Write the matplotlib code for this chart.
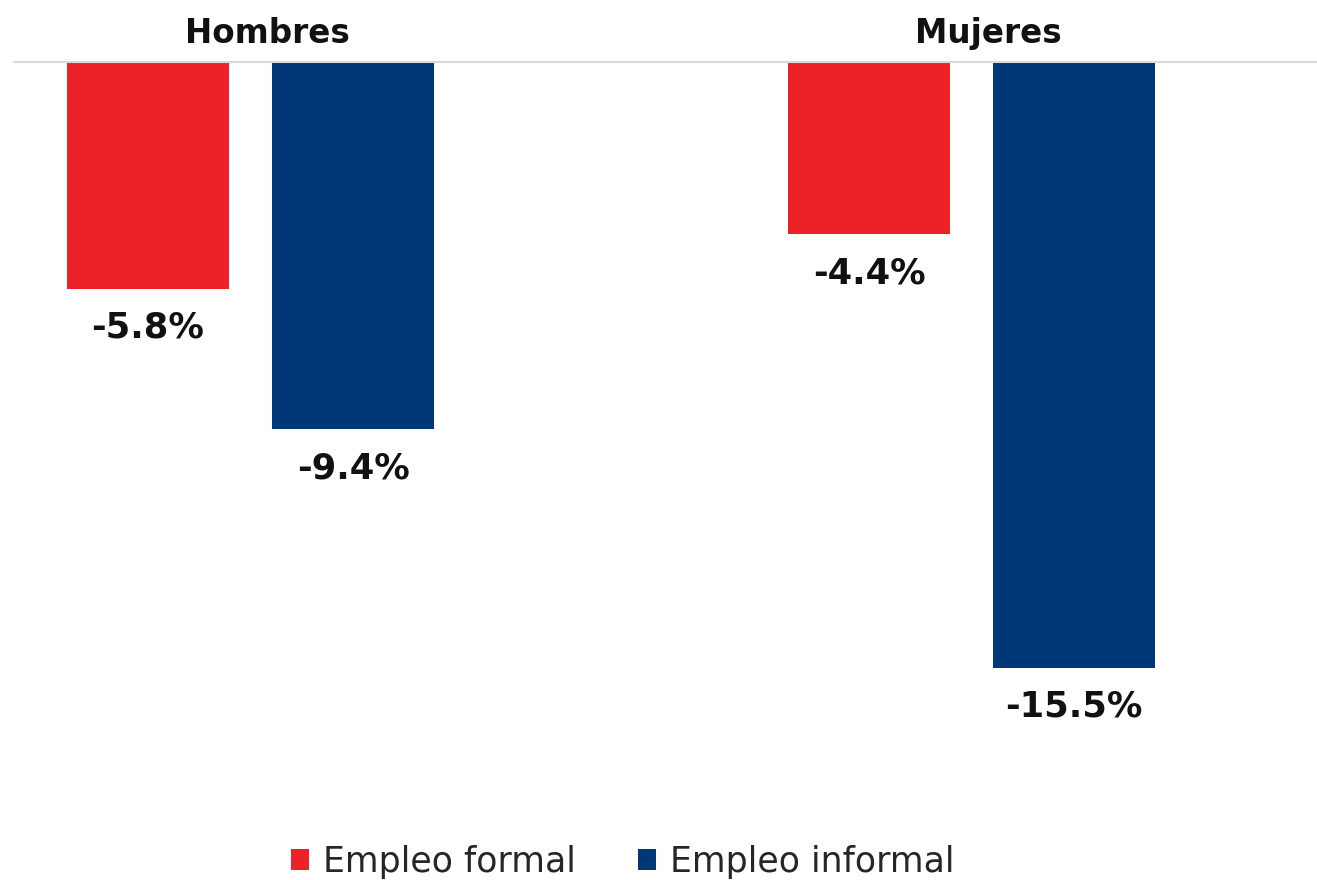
import matplotlib
matplotlib.use("Agg")
import matplotlib.pyplot as plt
import numpy as np

categories = ["Hombres", "Mujeres"]
series_names = ["Empleo formal", "Empleo informal"]
formal = [-5.8, -4.4]
informal = [-9.4, -15.5]
colors = ["#EB2228", "#003777"]

fig = plt.figure(figsize=(13.17, 8.8), dpi=100)
W, H = 1317, 880
ax = fig.add_axes([14 / W, 1 - 785 / H, (1317 - 14) / W, (785 - 62) / H])

x = np.arange(len(categories))
width = 0.2247
off = 0.1422
b1 = ax.bar(x - off, formal, width, color=colors[0], label=series_names[0])
b2 = ax.bar(x + off, informal, width, color=colors[1], label=series_names[1])

ax.set_xlim(-0.328, 1.479)
ax.set_ylim(-18.5, 0)

for bars, vals in ((b1, formal), (b2, informal)):
    for rect, v in zip(bars, vals):
        ax.annotate(f"{v:.1f}%", (rect.get_x() + rect.get_width() / 2, v),
                    xytext=(0, -16), textcoords="offset points",
                    ha="center", va="top", fontsize=25.5, fontweight="bold",
                    color="#111111", family="DejaVu Sans")

for i, c in enumerate(categories):
    ax.annotate(c, (i, 1), xycoords=("data", "axes fraction"),
                xytext=(12.2, 14), textcoords="offset points",
                ha="center", va="baseline", fontsize=23.5, fontweight="bold",
                color="#111111", family="DejaVu Sans")

for s in ["left", "right", "bottom"]:
    ax.spines[s].set_visible(False)
ax.spines["top"].set_color("#D9D9D9")
ax.spines["top"].set_linewidth(1.5)
ax.set_xticks([])
ax.set_yticks([])

leg = fig.legend(handles=[b1, b2], labels=series_names, loc="center",
                 bbox_to_anchor=(622.5 / W, 1 - 862 / H), ncol=2, frameon=False,
                 prop={"family": "DejaVu Sans", "size": 25},
                 handlelength=0.53, handleheight=0.53, handletextpad=0.38,
                 columnspacing=1.8, borderpad=0)
for t in leg.get_texts():
    t.set_color("#262626")

fig.savefig("out.png", dpi=100, facecolor="white")
